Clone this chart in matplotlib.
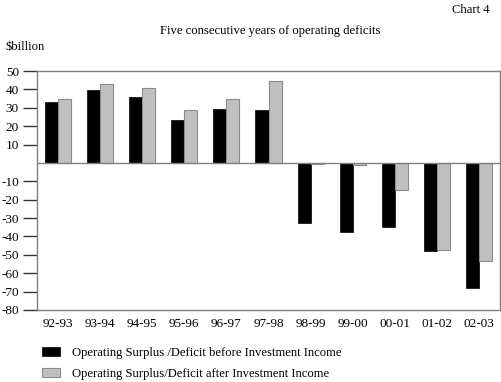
import matplotlib.pyplot as plt
import numpy as np

years = ["92-93", "93-94", "94-95", "95-96", "96-97", "97-98",
         "98-99", "99-00", "00-01", "01-02", "02-03"]
before_income = [32.9, 39.6, 35.7, 23.2, 29.6, 29.0, -32.6, -37.5, -34.8, -47.9, -68.0]
after_income = [34.5, 43.2, 40.5, 29.0, 35.0, 44.3, -0.4, -0.9, -14.9, -47.1, -53.1]
y_ticks = [50, 40, 30, 20, 10, -10, -20, -30, -40, -50, -60, -70, -80]

plt.rcParams["font.family"] = ["Liberation Serif", "DejaVu Serif"]
FS = 9.1
SPINE = "#808080"

fig = plt.figure(figsize=(5.01, 3.82), dpi=100)
ax = fig.add_axes([37 / 501, 1 - 310 / 382, 463 / 501, 239 / 382])

x = np.arange(len(years))
w = 0.31
ax.bar(x - w / 2, before_income, w, color="black", edgecolor="black", linewidth=0.5,
       label="Operating Surplus /Deficit before Investment Income", zorder=2)
ax.bar(x + w / 2, after_income, w, color="#c0c0c0", edgecolor="#8c8c8c", linewidth=0.8,
       label="Operating Surplus/Deficit after Investment Income", zorder=2)
ax.axhline(0, color=SPINE, linewidth=1, zorder=3)

ax.set_xlim(-0.5, len(years) - 0.5)
ax.set_ylim(-80, 50)
ax.set_yticks(y_ticks)
ax.set_yticklabels([str(v) for v in y_ticks], fontsize=FS + 0.4)
ax.set_xticks(x)
ax.set_xticklabels(years, fontsize=FS + 0.4)
ax.tick_params(axis="y", length=10, width=1, color="#333333", pad=3)
ax.tick_params(axis="x", length=0, pad=6)
for s in ax.spines.values():
    s.set_color(SPINE)
    s.set_linewidth(1)

fig.text(490 / 501, 1 - 10 / 382, "Chart 4", ha="right", va="center", fontsize=FS)
fig.text(270 / 501, 1 - 31 / 382, "Five consecutive years of operating deficits",
         ha="center", va="center", fontsize=FS)
fig.text(5 / 501, 1 - 47 / 382, "$billion", ha="left", va="center", fontsize=FS)

fig.legend(loc="upper left", bbox_to_anchor=(37 / 501, 1 - 342 / 382), frameon=False,
           fontsize=FS, handlelength=1.43, handleheight=0.71, handletextpad=0.95,
           labelspacing=0.7, borderaxespad=0)

fig.savefig("out.png", dpi=100)
